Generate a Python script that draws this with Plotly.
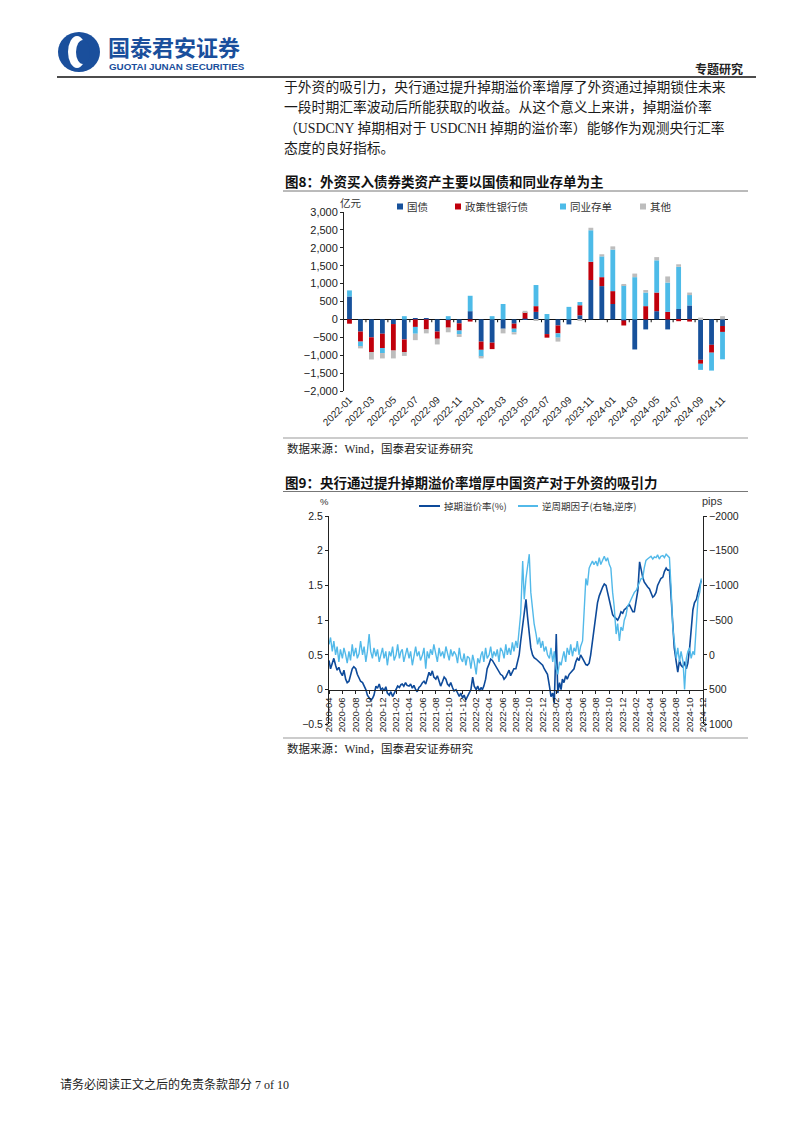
import plotly.graph_objects as go

# ---------------- DATA ----------------
months8 = ["2022-01","2022-02","2022-03","2022-04","2022-05","2022-06","2022-07","2022-08","2022-09","2022-10","2022-11","2022-12",
           "2023-01","2023-02","2023-03","2023-04","2023-05","2023-06","2023-07","2023-08","2023-09","2023-10","2023-11","2023-12",
           "2024-01","2024-02","2024-03","2024-04","2024-05","2024-06","2024-07","2024-08","2024-09","2024-10","2024-11"]
guozhai = [640, -340, -500, -400, -130, -560, 40, 30, -340, -20, -110, 230, -620, -650, -260, -120, 20, 210, -410, -170,
           -140, 115, 1100, 930, 430, -30, -840, -280, 230, -280, 290, 390, -1130, -710, -185]
zhengce = [-120, -280, -410, -400, -740, -350, -210, -280, -200, -210, -200, -60, -230, -180, 0, -140, 180, 160, -100, -220,
           0, 280, 510, 250, 360, -140, 0, 370, 520, 210, -50, -60, -110, -220, -165]
tongye = [170, -140, 0, -140, 0, 90, -190, 0, 0, 90, -100, 430, -190, 90, 430, -100, 0, 590, 150, -120,
          350, 90, 880, 580, 1160, 950, 1180, 380, 900, 820, 1180, 290, -170, -500, -765]
qita = [0, -50, -210, -150, -220, -110, -180, -110, -160, -130, -80, 0, -50, 0, -130, -60, 40, -20, 0, -110,
        0, -30, 70, 60, 90, 40, 100, 70, 90, 170, 70, 70, 50, 0, 90]
names8 = ["国债", "政策性银行债", "同业存单", "其他"]
colors8 = ["#17519b", "#c0000c", "#4dbbe8", "#bdbdbd"]
xticks8 = months8[::2]

months9 = ["2020-04","2020-05","2020-06","2020-07","2020-08","2020-09","2020-10","2020-11","2020-12",
           "2021-01","2021-02","2021-03","2021-04","2021-05","2021-06","2021-07","2021-08","2021-09","2021-10","2021-11","2021-12",
           "2022-01","2022-02","2022-03","2022-04","2022-05","2022-06","2022-07","2022-08","2022-09","2022-10","2022-11","2022-12",
           "2023-01","2023-02","2023-03","2023-04","2023-05","2023-06","2023-07","2023-08","2023-09","2023-10","2023-11","2023-12",
           "2024-01","2024-02","2024-03","2024-04","2024-05","2024-06","2024-07","2024-08","2024-09","2024-10","2024-11"]
days9 = ["01", "08", "16", "23"]
dates9 = [m + "-" + d for m in months9 for d in days9]

swap_premium = [  # 掉期溢价率 (%)
    0.42, 0.30, 0.38, 0.45,  0.35, 0.28, 0.32, 0.25,  0.20, 0.28, 0.15, 0.10,  0.12, 0.22, 0.30, 0.33,
    0.30, 0.22, 0.15, 0.12,  0.10, 0.05, 0.00, -0.08, -0.12, -0.15, -0.13, -0.08, 0.05, 0.02, 0.08, 0.00,
    0.02, -0.02, 0.04, -0.05, -0.08, -0.03, -0.10, -0.05, 0.00, 0.05, 0.03, 0.07,  0.08, 0.05, 0.10, 0.06,
    0.05, 0.08, 0.02, 0.06,  0.00, -0.03, 0.03, 0.05,  0.10, 0.12, 0.08, 0.15,  0.25, 0.20, 0.27, 0.18,
    0.15, 0.20, 0.10, 0.05,  0.12, 0.18, 0.15, 0.08,  0.05, 0.10, 0.03, -0.02, 0.00, -0.05, -0.10, -0.05,
    -0.12, -0.08, -0.15, -0.10, -0.05, 0.00, 0.18, 0.05, 0.00, 0.05, -0.02, 0.03, 0.00, 0.05, 0.15, 0.30,
    0.37, 0.44, 0.42, 0.38,  0.35, 0.30, 0.25, 0.22,  0.20, 0.15, 0.18, 0.22,  0.28, 0.20, 0.25, 0.30,
    0.30, 0.42, 0.50, 0.70,  0.90, 1.10, 1.30, 1.05,  0.85, 0.60, 0.50, 0.46,  0.44, 0.42, 0.40, 0.38,
    0.35, 0.30, 0.25, 0.22,  0.05, -0.10, -0.05, -0.20, 0.80, -0.05, 0.10, 0.00, 0.15, 0.10, 0.20, 0.15,
    0.22, 0.25, 0.28, 0.30,  0.40, 0.45, 0.42, 0.50,  0.45, 0.40, 0.36, 0.35,  0.38, 0.50, 0.70, 0.90,
    1.10, 1.25, 1.35, 1.42,  1.48, 1.52, 1.50, 1.40,  1.28, 1.20, 1.08, 1.05,  1.02, 1.00, 1.05, 1.12,
    1.10, 1.15, 1.17, 1.20,  1.22, 1.18, 1.12, 1.12,  1.30, 1.43, 1.84, 1.70,  1.62, 1.55, 1.50, 1.48,
    1.45, 1.38, 1.33, 1.35,  1.40, 1.50, 1.55, 1.60,  1.62, 1.70, 1.75, 1.72,  1.72, 1.30, 0.90, 0.60,
    0.40, 0.25, 0.42, 0.35,  0.32, 0.40, 0.30, 0.38,  0.60, 0.85, 1.15, 1.25,  1.30, 1.40, 1.50, 1.57]

ccf_pips = [  # 逆周期因子 (pips, right axis reversed)
    -150, -250, -50, -200,  0, -120, 100, -80,  50, -100, 0, 120,  -50, 80, -150, 20,
    -100, 50, -20, -200,  0, -120, 100, -50,  -300, -50, 50, -100,  20, -80, 100, -20,
    -100, 50, -50, 150,  -50, 20, -120, 80,  0, -150, 50, -50,  -80, 100, -20, -100,
    50, -50, 150, 0,  -120, 20, -50, 80,  0, -100, 200, -50,  50, -80, 0, -150,
    -20, 100, -100, 20,  -50, 50, -120, 0,  80, -80, 20, -50,  0, 120, -100, 50,
    100, -20, 150, 20,  50, 200, 0, 100,  280, 50, 120, 0,  -50, 100, -100, 50,
    0, -120, 50, -50,  20, -80, 100, -100,  -50, 50, -150, 0,  -100, 0, -180, -50,
    -200, -100, -350, -600,  -1350, -800, -1100, -1300,  -1450, -900, -600, -450,  -300, -150, -250, -100,
    -200, -50, -120, 0,  50, -100, 100, -50,  200, 280, 100, 150,  50, -50, 100, -100,
    0, -150, 20, -100,  -50, -200, 0, -120,  -200, -600, -1100, -1000,  -1250, -1300, -1350, -1300,
    -1350, -1280, -1400, -1300,  -1380, -1420, -1350, -1400,  -1300, -1250, -900, -700,  -300, -450, -200, -400,
    -350, -500, -570, -700,  -750, -800, -850, -900,  -930, -1000, -1050, -1100,  -1100, -1250, -1360, -1380,
    -1400, -1420, -1380, -1410,  -1400, -1440, -1380, -1420,  -1430, -1400, -1450, -1420,  -1400, -1000, -400, -200,
    50, -100, 100, -50,  100, 500, 50, -50,  -100, 50, -50, 0,  -400, -800, -900, -1100]
names9 = ["掉期溢价率(%)", "逆周期因子(右轴,逆序)"]
colors9 = ["#0d4a9a", "#52b9e9"]

para = ["于外资的吸引力，央行通过提升掉期溢价率增厚了外资通过掉期锁住未来",
        "一段时期汇率波动后所能获取的收益。从这个意义上来讲，掉期溢价率",
        "（USDCNY 掉期相对于 USDCNH 掉期的溢价率）能够作为观测央行汇率",
        "态度的良好指标。"]

# ---------------- HELPERS ----------------
W, H = 786, 1117          # figure size; the page body adds an 8px margin
OX, OY = 8, 8
def X(px):
    return (px - OX) / W
def Y(py):
    return 1 - (py - OY) / H

CJK = "Noto Sans CJK SC"
SERIF = "Liberation Serif, " + CJK

annotations = []
shapes = []

def text(x, y, s, size, color="#222222", family=SERIF, anchor="left", bold=False):
    annotations.append(dict(x=X(x), y=Y(y), xref="paper", yref="paper", text=("<b>%s</b>" % s) if bold else s,
                            showarrow=False, xanchor=anchor, yanchor="middle",
                            font=dict(size=size, color=color, family=family)))

def hline(x0, x1, y, color="#333333", width=1):
    shapes.append(dict(type="line", xref="paper", yref="paper", x0=X(x0), x1=X(x1), y0=Y(y), y1=Y(y),
                       line=dict(color=color, width=width)))

# ---------------- FIGURE ----------------
fig = go.Figure()
for vals, nm, col in zip([guozhai, zhengce, tongye, qita], names8, colors8):
    fig.add_trace(go.Bar(x=months8, y=vals, name=nm, marker=dict(color=col, line=dict(width=0)),
                         xaxis="x", yaxis="y", showlegend=False))

fig.add_trace(go.Scatter(x=dates9, y=ccf_pips, name=names9[1], mode="lines",
                         line=dict(color=colors9[1], width=1.4), xaxis="x2", yaxis="y3", showlegend=False))
fig.add_trace(go.Scatter(x=dates9, y=swap_premium, name=names9[0], mode="lines",
                         line=dict(color=colors9[0], width=1.6), xaxis="x2", yaxis="y2", showlegend=False))

# small category ticks on the zero line of chart 8 (every two months, between bars)
for k in range(1, len(months8) - 1, 2):
    shapes.append(dict(type="line", xref="x", yref="y", x0=k + 0.5, x1=k + 0.5, y0=0, y1=-80,
                       line=dict(color="#111111", width=1)))

# ---------------- PAGE DECOR ----------------
# logo
shapes.append(dict(type="circle", xref="paper", yref="paper", x0=X(58), x1=X(100), y0=Y(72), y1=Y(32),
                   fillcolor="#1a4f9c", line=dict(width=0)))
shapes.append(dict(type="circle", xref="paper", yref="paper", x0=X(68), x1=X(86), y0=Y(68), y1=Y(36),
                   fillcolor="white", line=dict(width=0)))
shapes.append(dict(type="circle", xref="paper", yref="paper", x0=X(76), x1=X(90), y0=Y(64), y1=Y(40),
                   fillcolor="#1a4f9c", line=dict(width=0)))
text(106, 46, "国泰君安证券", 22, "#1a4f9c", CJK, bold=True)
text(107, 67, "GUOTAI JUNAN SECURITIES", 9.8, "#1a4f9c", "Liberation Sans", bold=True)
text(745, 69, "专题研究", 12, "#222222", CJK, anchor="right", bold=True)
hline(57, 756, 77, "#111111", 1.3)

for i, line in enumerate(para):
    text(282, 87 + i * 20.4, line, 13.8, "#1a1a1a", SERIF)

# chart 8 title / source
text(283, 181, "图8：外资买入债券类资产主要以国债和同业存单为主", 13.5, "#111111", CJK, bold=True)
hline(283, 748, 191, "#777777", 1)
hline(283, 748, 438, "#999999", 1)
text(285, 448, "数据来源：Wind，国泰君安证券研究", 11.5, "#222222", SERIF)

# chart 8 legend + unit
text(338, 203, "亿元", 10.5, "#333333", CJK)
leg8_x = [400, 458, 563, 643]
for lx, nm, col in zip(leg8_x, names8, colors8):
    shapes.append(dict(type="rect", xref="paper", yref="paper", x0=X(lx - 3), x1=X(lx + 3), y0=Y(209.5), y1=Y(203.5),
                       fillcolor=col, line=dict(width=0)))
    text(lx + 5, 206.5, nm, 10.5, "#333333", CJK)

# chart 9 title / source
text(283, 482, "图9：央行通过提升掉期溢价率增厚中国资产对于外资的吸引力", 13.5, "#111111", CJK, bold=True)
hline(283, 748, 491.5, "#777777", 1)
hline(283, 748, 738, "#999999", 1)
text(285, 748, "数据来源：Wind，国泰君安证券研究", 11.5, "#222222", SERIF)

# chart 9 legend + units
text(324, 501, "%", 9.5, "#333333", "Liberation Sans", anchor="center")
text(712, 501, "pips", 11, "#333333", "Liberation Sans", anchor="center")
leg9 = [(419, 440), (518, 538)]
for (lx0, lx1), nm, col in zip(leg9, names9, colors9):
    hline(lx0, lx1, 506, col, 2)
    text(lx1 + 2, 506, nm, 9.5, "#333333", CJK)

# footer
text(58, 1084, "请务必阅读正文之后的免责条款部分 7 of 10", 12, "#222222", SERIF)

axis_font = dict(family="Liberation Sans", size=11, color="#222222")
common = dict(automargin=False, showgrid=False, linecolor="#222222", linewidth=1, tickcolor="#222222")

fig.update_layout(
    template="none",
    width=W, height=H, autosize=False,
    margin=dict(l=0, r=0, t=0, b=0, pad=0, autoexpand=False),
    paper_bgcolor="white", plot_bgcolor="rgba(0,0,0,0)",
    barmode="relative", bargap=0.56,
    annotations=annotations, shapes=shapes,
    xaxis=dict(domain=[X(344), X(728)], anchor="y", type="category", tickmode="array", tickvals=xticks8,
               ticktext=xticks8, tickangle=-45, tickfont=dict(family="Liberation Sans", size=10, color="#222222"),
               showline=False, ticks="", zeroline=False, automargin=False, showgrid=False),
    yaxis=dict(domain=[Y(391), Y(212)], anchor="x", range=[-2000, 3000], dtick=500, tickformat=",",
               showline=True, ticks="outside", ticklen=3,
               zeroline=True, zerolinecolor="#111111", zerolinewidth=1, tickfont=axis_font, **common),
    xaxis2=dict(domain=[X(329), X(703)], anchor="free", position=Y(689.6), type="date",
                range=["2020-04-01", "2024-12-01"], tick0="2020-04-01", dtick="M2", tickformat="%Y-%m",
                tickangle=-90, tickfont=dict(family="Liberation Sans", size=9.5, color="#222222"),
                showline=True, ticks="outside", ticklen=3, zeroline=False, **common),
    yaxis2=dict(domain=[Y(724.3), Y(516)], anchor="x2", range=[-0.5, 2.5], dtick=0.5,
                showline=True, ticks="outside", ticklen=3, zeroline=False,
                tickfont=dict(family="Liberation Sans", size=10.5, color="#222222"), **common),
    yaxis3=dict(overlaying="y2", side="right", anchor="x2", range=[1000, -2000], dtick=500,
                showline=True, ticks="outside", ticklen=3, zeroline=False,
                tickfont=dict(family="Liberation Sans", size=10.5, color="#222222"), **common),
)

fig.write_html("out.html")
